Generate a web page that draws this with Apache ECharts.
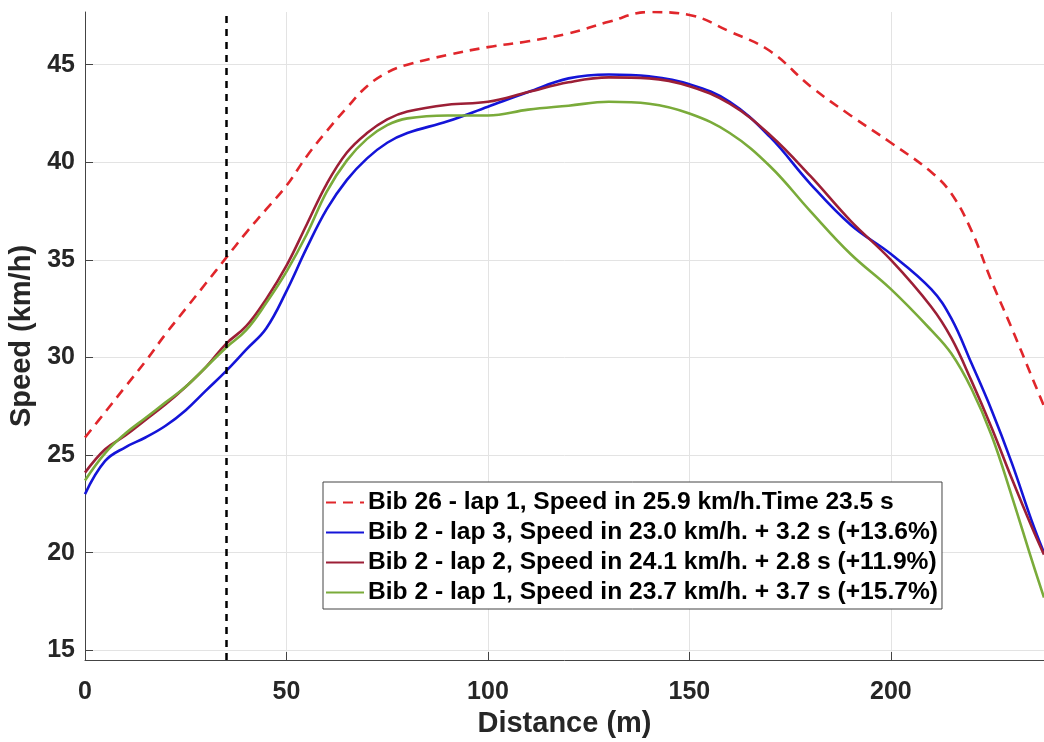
<!DOCTYPE html>
<html>
<head>
<meta charset="utf-8">
<title>Speed vs Distance</title>
<script src="https://cdn.jsdelivr.net/npm/echarts@6/dist/echarts.min.js"></script>
<style>
html, body { margin: 0; padding: 0; background: #fff; }
#speedChart { width: 1044px; height: 742px; }
</style>
</head>
<body>
<div id="speedChart"></div>
<script>
'use strict';
// distance (m), common for all laps
var distance = [0, 5, 10, 15, 20, 25, 30, 35, 40, 45, 50, 55, 60, 65, 70, 75, 80, 90, 100, 110, 120, 130, 140, 150, 160, 170, 180, 190, 200, 210, 215, 220, 225, 230, 235, 238];

// speed (km/h)
var bib26Lap1 = [25.9, 27.2, 28.5, 29.8, 31.2, 32.5, 33.8, 35.1, 36.4, 37.6, 38.8, 40.3, 41.6, 42.8, 43.9, 44.6, 45.0, 45.5, 45.9, 46.2, 46.6, 47.2, 47.7, 47.55, 46.7, 45.7, 43.9, 42.4, 41.0, 39.5, 38.4, 36.5, 33.9, 31.5, 29.0, 27.5];
var bib2Lap3 = [23.0, 24.7, 25.4, 25.9, 26.5, 27.3, 28.3, 29.3, 30.4, 31.5, 33.4, 35.6, 37.6, 39.1, 40.2, 41.0, 41.5, 42.1, 42.85, 43.6, 44.3, 44.5, 44.4, 44.0, 43.1, 41.3, 38.9, 36.8, 35.3, 33.5, 32.0, 29.7, 27.3, 24.6, 21.6, 20.0];
var bib2Lap2 = [24.1, 25.3, 26.0, 26.8, 27.6, 28.5, 29.5, 30.7, 31.6, 33.0, 34.7, 36.8, 38.9, 40.5, 41.5, 42.2, 42.6, 42.95, 43.1, 43.6, 44.1, 44.35, 44.3, 43.9, 43.0, 41.4, 39.3, 37.0, 35.0, 32.6, 31.0, 28.8, 26.4, 23.8, 21.3, 19.9];
var bib2Lap1 = [23.7, 25.1, 26.1, 26.9, 27.7, 28.5, 29.5, 30.5, 31.4, 32.8, 34.4, 36.3, 38.5, 40.1, 41.2, 41.9, 42.25, 42.4, 42.4, 42.7, 42.9, 43.1, 43.0, 42.5, 41.5, 39.8, 37.5, 35.3, 33.5, 31.4, 30.2, 28.4, 26.0, 22.9, 19.6, 17.7];

var seriesNames = [
    'Bib 26 - lap 1, Speed in 25.9 km/h.Time 23.5 s',
    'Bib 2 - lap 3, Speed in 23.0 km/h. + 3.2 s (+13.6%)',
    'Bib 2 - lap 2, Speed in 24.1 km/h. + 2.8 s (+11.9%)',
    'Bib 2 - lap 1, Speed in 23.7 km/h. + 3.7 s (+15.7%)'
];
var xTicks = [0, 50, 100, 150, 200];
var yTicks = [15, 20, 25, 30, 35, 40, 45];
var markerDistance = 35;

function pairs(values) {
    return distance.map(function (d, i) { return [d, values[i]]; });
}

var textColor = '#262626';
var font = 'Liberation Sans, Arial, sans-serif';

var speedChart = echarts.init(document.getElementById('speedChart'));
var option = {
    animation: false,
    backgroundColor: '#fff',
    grid: { left: 85, top: 12, right: 0, bottom: 82, containLabel: false, outerBoundsMode: 'none' },
    legend: {
        orient: 'vertical',
        left: 323,
        top: 482,
        itemWidth: 38,
        itemHeight: 14,
        itemGap: 5,
        padding: [8, 4, 4, 2],
        backgroundColor: '#fff',
        borderColor: '#444',
        borderWidth: 1,
        borderRadius: 0,
        itemStyle: { opacity: 0 },
        textStyle: { color: '#000', fontSize: 24.6, lineHeight: 24, fontWeight: 'bold', fontFamily: font, padding: [0, 0, 0, -1] },
        data: seriesNames
    },
    xAxis: {
        type: 'value',
        min: 0,
        max: 238,
        interval: 50,
        name: 'Distance (m)',
        nameLocation: 'middle',
        nameGap: 46,
        nameTextStyle: { color: textColor, fontSize: 29, fontWeight: 'bold', fontFamily: font },
        axisLine: { show: true, lineStyle: { color: '#444', width: 1 } },
        axisTick: { show: true, inside: true, length: 8, customValues: xTicks, lineStyle: { color: '#444' } },
        axisLabel: { color: textColor, fontSize: 25, fontWeight: 'bold', fontFamily: font, margin: 20, customValues: xTicks },
        splitLine: { show: true, lineStyle: { color: '#e3e3e3', width: 1 } }
    },
    yAxis: {
        type: 'value',
        min: 14.5,
        max: 47.7,
        name: 'Speed (km/h)',
        nameLocation: 'middle',
        nameGap: 45,
        nameTextStyle: { color: textColor, fontSize: 29, fontWeight: 'bold', fontFamily: font },
        axisLine: { show: true, lineStyle: { color: '#444', width: 1 } },
        axisTick: { show: true, inside: true, length: 8, customValues: yTicks, lineStyle: { color: '#444' } },
        axisLabel: { color: textColor, fontSize: 25, fontWeight: 'bold', fontFamily: font, margin: 10, customValues: yTicks },
        splitLine: { show: true, lineStyle: { color: '#e3e3e3', width: 1 } }
    },
    series: [
        {
            name: seriesNames[0],
            type: 'line',
            smooth: 0.4,
            symbol: 'none',
            z: 4,
            lineStyle: { color: '#e0262b', width: 2.6, type: [10, 7] },
            itemStyle: { color: '#e0262b' },
            data: pairs(bib26Lap1),
            markLine: {
                silent: true,
                symbol: ['none', 'none'],
                label: { show: false },
                lineStyle: { color: '#000', width: 2.5, type: [7, 6] },
                data: [{ xAxis: markerDistance }]
            }
        },
        {
            name: seriesNames[1],
            type: 'line',
            smooth: 0.4,
            symbol: 'none',
            z: 3,
            lineStyle: { color: '#1414d8', width: 2.6 },
            itemStyle: { color: '#1414d8' },
            data: pairs(bib2Lap3)
        },
        {
            name: seriesNames[2],
            type: 'line',
            smooth: 0.4,
            symbol: 'none',
            z: 3,
            lineStyle: { color: '#9c1f36', width: 2.6 },
            itemStyle: { color: '#9c1f36' },
            data: pairs(bib2Lap2)
        },
        {
            name: seriesNames[3],
            type: 'line',
            smooth: 0.4,
            symbol: 'none',
            z: 3,
            lineStyle: { color: '#7aab3a', width: 2.6 },
            itemStyle: { color: '#7aab3a' },
            data: pairs(bib2Lap1)
        }
    ]
};
speedChart.setOption(option);
</script>
</body>
</html>
